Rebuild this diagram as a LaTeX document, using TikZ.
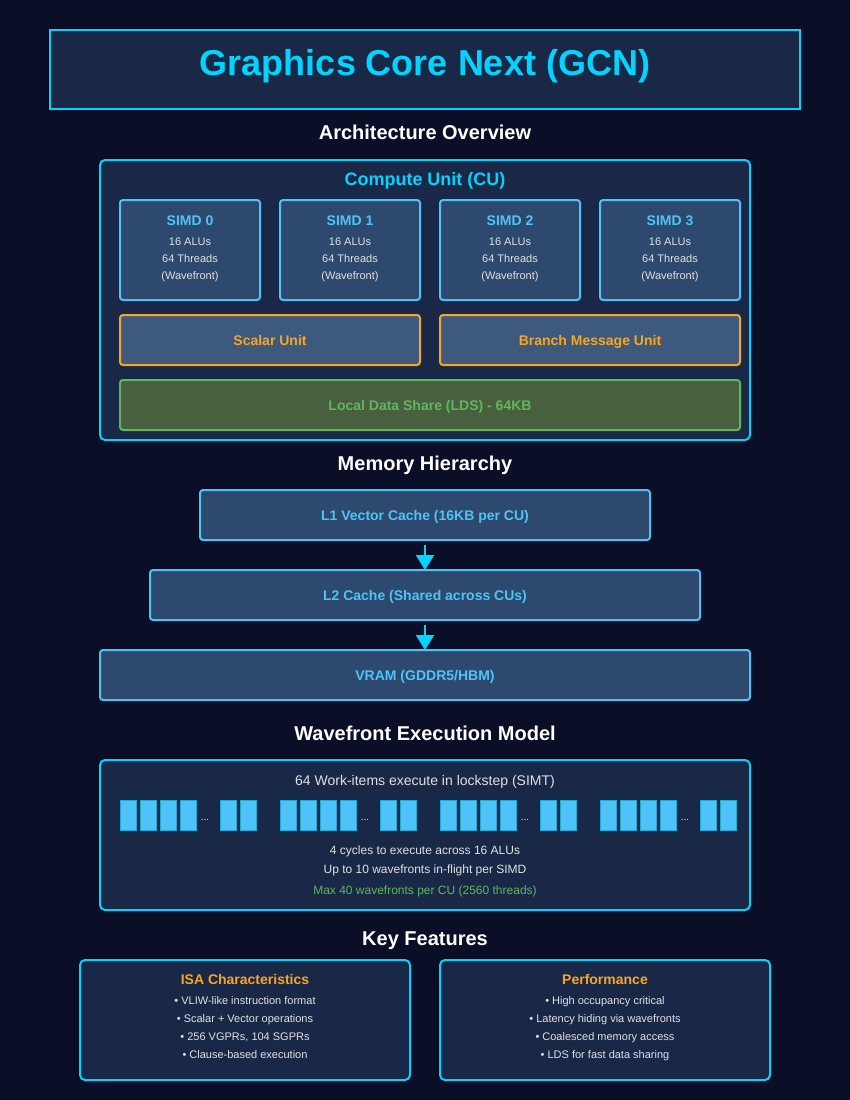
\documentclass[tikz,border=0pt]{standalone}
\usepackage{fontspec}
\setmainfont{Liberation Sans}
\usetikzlibrary{arrows.meta}
\definecolor{bgc}{HTML}{0A0E27}
\definecolor{panel}{HTML}{1A2847}
\definecolor{cyanc}{HTML}{00D4FF}
\definecolor{lblue}{HTML}{4FC3F7}
\definecolor{simdfill}{HTML}{2D4A6E}
\definecolor{unitfill}{HTML}{3D5A7E}
\definecolor{orangec}{HTML}{F5A623}
\definecolor{ldsfill}{HTML}{4A5F3E}
\definecolor{greenc}{HTML}{5CB85C}
\definecolor{txtc}{HTML}{E0E0E0}
\definecolor{wfedge}{HTML}{1FA8D8}
\newcommand{\fs}[1]{\fontsize{#1}{#1}\selectfont}
\tikzset{
  panelbox/.style={draw=cyanc, line width=2, fill=panel, rounded corners=5},
  simdbox/.style={draw=lblue, line width=2, fill=simdfill, rounded corners=3},
  unitbox/.style={draw=orangec, line width=2, fill=unitfill, rounded corners=3},
  ldsbox/.style={draw=greenc, line width=2, fill=ldsfill, rounded corners=3},
  membox/.style={draw=lblue, line width=2, fill=simdfill, rounded corners=3},
  heading/.style={text=white, font=\fs{20}\bfseries},
  simdtitle/.style={text=lblue, font=\fs{14}\bfseries},
  bodytxt/.style={text=txtc, font=\fs{11}},
  memtxt/.style={text=lblue, font=\fs{14}\bfseries},
  arr/.style={draw=cyanc, line width=2, -{Triangle[length=15,width=18]}},
  wi/.style={draw=wfedge, line width=1, fill=lblue},
  lbl/.style={inner sep=0, anchor=base},
}
\begin{document}
\begin{tikzpicture}[x=1pt,y=-1pt]
\useasboundingbox (0,0) rectangle (850,1100);
\fill[bgc] (0,0) rectangle (850,1100);

% title
\draw[draw=cyanc, line width=2, fill=panel] (50,30) rectangle (800,109);
\node[lbl, text=cyanc, font=\fs{36}\bfseries] (title) at (425,75.5) {Graphics Core Next (GCN)};

\node[lbl, heading] (h1) at (425,139.5) {Architecture Overview};

% compute unit
\draw[panelbox] (100,160) rectangle (750,440);
\node[lbl, text=cyanc, font=\fs{18}\bfseries] (cu) at (425,185.5) {Compute Unit (CU)};

\foreach \i/\x in {0/120,1/280,2/440,3/600}{
  \draw[simdbox] (\x,200) rectangle ++(140,100);
  \node[lbl, simdtitle] (simd\i) at (\x+70,225) {SIMD \i};
  \node[lbl, bodytxt] (simd\i a) at (\x+70,245) {16 ALUs};
  \node[lbl, bodytxt] (simd\i b) at (\x+70,262) {64 Threads};
  \node[lbl, bodytxt] (simd\i c) at (\x+70,279) {(Wavefront)};
}

\draw[unitbox] (120,315) rectangle (420,365);
\node[lbl, text=orangec, font=\fs{14}\bfseries] (scalar) at (270,345) {Scalar Unit};
\draw[unitbox] (440,315) rectangle (740,365);
\node[lbl, text=orangec, font=\fs{14}\bfseries] (branch) at (590,345) {Branch Message Unit};

\draw[ldsbox] (120,380) rectangle (740,430);
\node[lbl, text=greenc, font=\fs{14}\bfseries] (lds) at (430,410) {Local Data Share (LDS) - 64KB};

\node[lbl, heading] (h2) at (425,470) {Memory Hierarchy};

% memory
\draw[membox] (200,490) rectangle (650,540);
\coordinate (l1s) at (425,540);
\node[lbl, memtxt] (l1) at (425,520) {L1 Vector Cache (16KB per CU)};
\draw[membox] (150,570) rectangle (700,620);
\coordinate (l2n) at (425,570);
\coordinate (l2s) at (425,620);
\node[lbl, memtxt] (l2) at (425,600) {L2 Cache (Shared across CUs)};
\draw[membox] (100,650) rectangle (750,700);
\coordinate (vramn) at (425,650);
\node[lbl, memtxt] (vram) at (425,680) {VRAM (GDDR5/HBM)};
\draw[arr] ([yshift=-5]l1s) -- (l2n);
\draw[arr] ([yshift=-5]l2s) -- (vramn);

\node[lbl, heading] (h3) at (425,740) {Wavefront Execution Model};

% wavefront
\draw[panelbox] (100,760) rectangle (750,910);
\node[lbl, text=txtc, font=\fs{14}] (wft) at (425,785) {64 Work-items execute in lockstep (SIMT)};
\foreach \g/\x in {0/120,1/280,2/440,3/600}{
  \foreach \k in {0,1,2,3}{
    \draw[wi] (\x+20*\k,800) rectangle ++(16,30);
  }
  \node[lbl, text=txtc, font=\fs{10}] (dots\g) at (\x+85,820) {...};
  \draw[wi] (\x+100,800) rectangle ++(16,30);
  \draw[wi] (\x+120,800) rectangle ++(16,30);
}
\node[lbl, text=txtc, font=\fs{12}] (wf1) at (425,854) {4 cycles to execute across 16 ALUs};
\node[lbl, text=txtc, font=\fs{12}] (wf2) at (425,873.5) {Up to 10 wavefronts in-flight per SIMD};
\node[lbl, text=greenc, font=\fs{12}] (wf3) at (425,894) {Max 40 wavefronts per CU (2560 threads)};

\node[lbl, heading] (h4) at (425,945) {Key Features};

% key features
\draw[panelbox] (80,960) rectangle (410,1080);
\node[lbl, text=orangec, font=\fs{14}\bfseries] (isa) at (245,984.5) {ISA Characteristics};
\node[lbl, bodytxt] (isa1) at (245,1004.5) {• VLIW-like instruction format};
\node[lbl, bodytxt] (isa2) at (245,1022.5) {• Scalar + Vector operations};
\node[lbl, bodytxt] (isa3) at (245,1040.5) {• 256 VGPRs, 104 SGPRs};
\node[lbl, bodytxt] (isa4) at (245,1058.5) {• Clause-based execution};

\draw[panelbox] (440,960) rectangle (770,1080);
\node[lbl, text=orangec, font=\fs{14}\bfseries] (perf) at (605,984.5) {Performance};
\node[lbl, bodytxt] (perf1) at (605,1004.5) {• High occupancy critical};
\node[lbl, bodytxt] (perf2) at (605,1022.5) {• Latency hiding via wavefronts};
\node[lbl, bodytxt] (perf3) at (605,1040.5) {• Coalesced memory access};
\node[lbl, bodytxt] (perf4) at (605,1058.5) {• LDS for fast data sharing};
\end{tikzpicture}
\end{document}
